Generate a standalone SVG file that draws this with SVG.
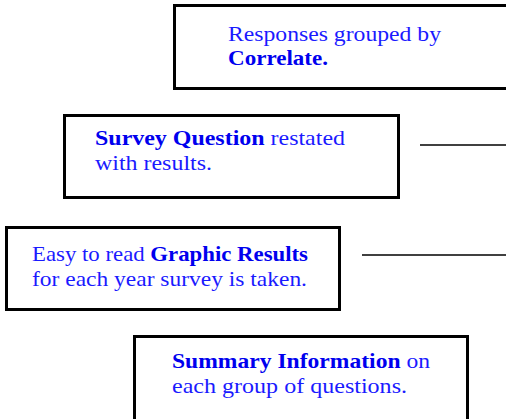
<svg xmlns="http://www.w3.org/2000/svg" width="506" height="419" viewBox="0 0 506 419">
<style>
.box{fill:#fff;stroke:#000;stroke-width:3}
.t{font-family:"Liberation Serif","DejaVu Serif",serif;font-size:22px;fill:#1a1aff}
.b{font-weight:bold;fill:#0000ee}
.conn{stroke:#000;stroke-width:1.5;fill:none}
</style>
<rect width="506" height="419" fill="#fff"/>
<g id="connectors">
<line class="conn" x1="420" y1="145" x2="506" y2="145"/>
<line class="conn" x1="362" y1="255" x2="506" y2="255"/>
</g>
<g id="node-correlate">
<rect class="box" x="174.5" y="5.5" width="340" height="83"/>
<text class="t" x="228" y="41" textLength="213" lengthAdjust="spacingAndGlyphs">Responses grouped by</text>
<text class="t" x="228" y="65" textLength="100" lengthAdjust="spacingAndGlyphs"><tspan class="b">Correlate.</tspan></text>
</g>
<g id="node-survey">
<rect class="box" x="64.5" y="115.5" width="334" height="82"/>
<text class="t" x="95" y="145" textLength="250" lengthAdjust="spacingAndGlyphs"><tspan class="b">Survey Question</tspan> restated</text>
<text class="t" x="95" y="170" textLength="117" lengthAdjust="spacingAndGlyphs">with results.</text>
</g>
<g id="node-graphic">
<rect class="box" x="6.5" y="227.5" width="333" height="82"/>
<text class="t" x="32" y="261" textLength="276" lengthAdjust="spacingAndGlyphs">Easy to read <tspan class="b">Graphic Results</tspan></text>
<text class="t" x="32" y="286" textLength="275" lengthAdjust="spacingAndGlyphs">for each year survey is taken.</text>
</g>
<g id="node-summary">
<rect class="box" x="134.5" y="336.5" width="333" height="90"/>
<text class="t" x="172" y="368" textLength="258" lengthAdjust="spacingAndGlyphs"><tspan class="b">Summary Information</tspan> on</text>
<text class="t" x="172" y="393" textLength="235" lengthAdjust="spacingAndGlyphs">each group of questions.</text>
</g>
</svg>
